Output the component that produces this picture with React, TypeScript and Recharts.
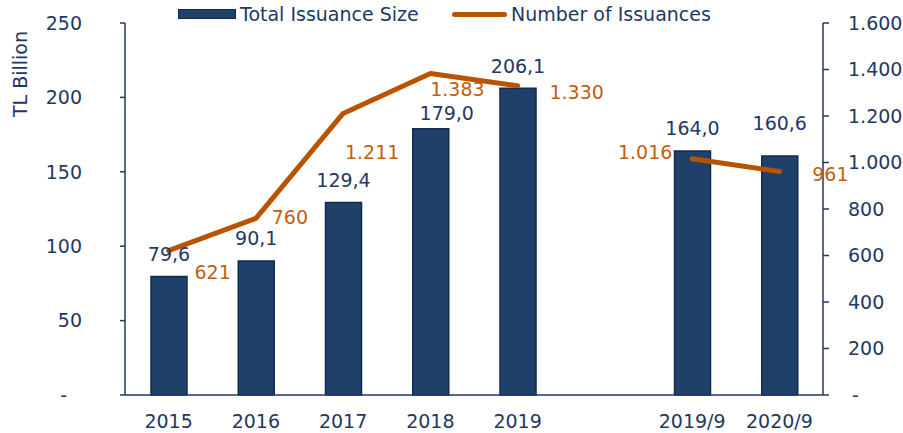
import React from 'react';
import { ComposedChart, Bar, Line, XAxis, YAxis, Legend, LabelList } from 'recharts';

const categories = ['2015', '2016', '2017', '2018', '2019', '', '2019/9', '2020/9'];
const issuanceSize: (number | null)[] = [79.6, 90.1, 129.4, 179.0, 206.1, null, 164.0, 160.6];
const issuanceCount: (number | null)[] = [621, 760, 1211, 1383, 1330, null, 1016, 961];
const leftTicks = [0, 50, 100, 150, 200, 250];
const rightTicks = [0, 200, 400, 600, 800, 1000, 1200, 1400, 1600];

const data = categories.map((c, i) => ({ cat: c, size: issuanceSize[i], count: issuanceCount[i] }));

const NAVY = '#1F3864';
const BAR = '#1F4068';
const BAR_STROKE = '#0F2C4E';
const LINE = '#BA5300';
const ORANGE = '#C25E10';
const FONT = 'DejaVu Sans, Verdana, sans-serif';
const FS = 19;

const barLabelOffsets: Record<number, [number, number]> = {
  3: [16, -15],
  6: [0, -33],
  7: [2, -23],
};
const lineLabelOffsets: [number, number][] = [
  [44, 22], [34, -1], [29, 39], [27, 15.5], [59, 6], [0, 0], [-47, -7], [51, 3],
];

const fmtComma = (v: number) => v.toFixed(1).replace('.', ',');
const fmtDot = (v: number) => String(Math.round(v)).replace(/\B(?=(\d{3})+(?!\d))/g, '.');

const BarLabel = (props: any) => {
  const { x, y, width, value, index } = props;
  if (value == null) return null;
  const [dx, dy] = barLabelOffsets[index] ?? [0, -22.5];
  return (
    <text x={x + width / 2 + dx} y={y + dy} dy="0.36em" textAnchor="middle" fill={NAVY} fontSize={FS} fontFamily={FONT}>
      {fmtComma(value)}
    </text>
  );
};

const LineLabel = (props: any) => {
  const { x, y, value, index } = props;
  if (value == null) return null;
  const [dx, dy] = lineLabelOffsets[index];
  return (
    <text x={x + dx} y={y + dy} dy="0.36em" textAnchor="middle" fill={ORANGE} fontSize={FS} fontFamily={FONT}>
      {fmtDot(value)}
    </text>
  );
};

const LeftTick = (props: any) => {
  const { x, y, payload } = props;
  const v = payload.value;
  return (
    <text x={v === 0 ? x - 15 : x} y={y} dy="0.36em" textAnchor="end" fill={NAVY} fontSize={FS} fontFamily={FONT}>
      {v === 0 ? '-' : String(v)}
    </text>
  );
};

const RightTick = (props: any) => {
  const { x, y, payload } = props;
  const v = payload.value;
  return (
    <text x={v === 0 ? x + 4 : x} y={y} dy="0.36em" textAnchor="start" fill={NAVY} fontSize={FS} fontFamily={FONT}>
      {v === 0 ? '-' : fmtDot(v)}
    </text>
  );
};

const XTick = (props: any) => {
  const { x, y, payload } = props;
  return (
    <text x={x} y={y} dy="0.36em" textAnchor="middle" fill={NAVY} fontSize={FS} fontFamily={FONT}>
      {payload.value}
    </text>
  );
};

const LegendContent = () => (
  <div style={{ position: 'relative', width: 903, height: 23, fontFamily: FONT, fontSize: FS, color: NAVY }}>
    <div style={{ position: 'absolute', left: 178, top: 9, width: 58, height: 10, background: BAR, border: `1px solid ${BAR_STROKE}`, boxSizing: 'border-box' }} />
    <div style={{ position: 'absolute', left: 240, top: 2, lineHeight: '24px', whiteSpace: 'nowrap' }}>Total Issuance Size</div>
    <div style={{ position: 'absolute', left: 452, top: 12, width: 55, height: 5, background: LINE, borderRadius: 3 }} />
    <div style={{ position: 'absolute', left: 511, top: 2, lineHeight: '24px', whiteSpace: 'nowrap' }}>Number of Issuances</div>
  </div>
);

const YTitle = (props: any) => {
  const vb = props.viewBox || { x: 0, y: 23 };
  const cx = 20;
  const cy = vb.y + 51;
  return (
    <text x={cx} y={cy} dy="0.36em" textAnchor="middle" fill={NAVY} fontSize={FS} fontFamily={FONT} transform={`rotate(-90 ${cx} ${cy})`}>
      TL Billion
    </text>
  );
};

export default function App() {
  return (
    <div style={{ position: 'absolute', left: 0, top: 0, width: 903, height: 433, background: '#fff' }}>
      <ComposedChart width={903} height={433} data={data} margin={{ top: 0, right: 0, bottom: 0, left: 0 }} barCategoryGap={0}>
        <XAxis dataKey="cat" height={38} tickLine={false} axisLine={{ stroke: NAVY, strokeWidth: 1.5 }} tick={<XTick />} tickMargin={20} interval={0} />
        <YAxis yAxisId="left" orientation="left" width={125} domain={[0, 250]} ticks={leftTicks} tickSize={5} tickMargin={38}
          axisLine={{ stroke: NAVY, strokeWidth: 1.5 }} tickLine={{ stroke: NAVY, strokeWidth: 1.5 }} tick={<LeftTick />} label={<YTitle />} />
        <YAxis yAxisId="right" orientation="right" width={80} domain={[0, 1600]} ticks={rightTicks} tickSize={6} tickMargin={19}
          axisLine={{ stroke: NAVY, strokeWidth: 1.5 }} tickLine={{ stroke: NAVY, strokeWidth: 1.5 }} tick={<RightTick />} />
        <Legend verticalAlign="top" content={<LegendContent />} wrapperStyle={{ top: 0, left: 0, width: 903, height: 23 }} />
        <Bar yAxisId="left" dataKey="size" name="Total Issuance Size" fill={BAR} stroke={BAR_STROKE} strokeWidth={1.5} barSize={36} isAnimationActive={false}>
          <LabelList dataKey="size" content={<BarLabel />} />
        </Bar>
        <Line yAxisId="right" dataKey="count" name="Number of Issuances" stroke={LINE} strokeWidth={5} dot={false} activeDot={false} connectNulls={false} isAnimationActive={false} strokeLinejoin="round" strokeLinecap="round" type="linear">
          <LabelList dataKey="count" content={<LineLabel />} />
        </Line>
      </ComposedChart>
    </div>
  );
}
